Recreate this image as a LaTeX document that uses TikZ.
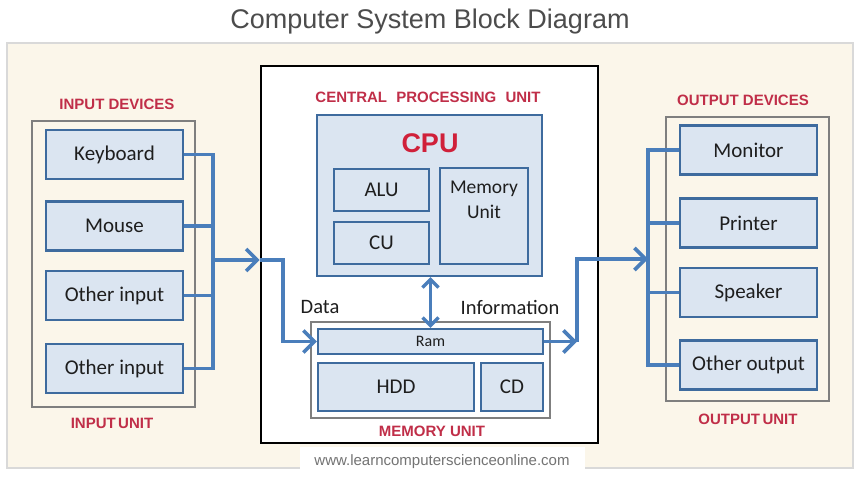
\documentclass[tikz,border=0pt]{standalone}
\usepackage{fontspec}
\setmainfont{Liberation Sans}
\newfontfamily\calfont{Carlito}
\usetikzlibrary{arrows.meta}
\definecolor{panelbg}{HTML}{FBF6EA}
\definecolor{panelln}{HTML}{D9D9D9}
\definecolor{boxfill}{HTML}{DBE5F1}
\definecolor{boxln}{HTML}{3E6B9E}
\definecolor{connc}{HTML}{4A7EBB}
\definecolor{labred}{HTML}{C02E48}
\definecolor{cpured}{HTML}{D0203A}
\definecolor{grpln}{HTML}{7F7F7F}
\definecolor{txtc}{HTML}{1E1E1E}
\tikzset{
  devbox/.style={draw=boxln, line width=2.2pt, fill=boxfill, minimum width=137pt, minimum height=49pt, inner sep=0pt, text=txtc, font=\calfont\fontsize{21}{25}\selectfont},
  inbox/.style={draw=boxln, line width=2.2pt, fill=boxfill, inner sep=0pt, text=txtc, font=\calfont\fontsize{21}{25}\selectfont, align=center},
  grpbox/.style={draw=grpln, line width=1.3pt},
  redlab/.style={text=labred, font=\bfseries\fontsize{15}{18}\selectfont, inner sep=0pt},
  plain/.style={text=txtc, font=\calfont\fontsize{20.5}{25}\selectfont, inner sep=0pt},
  conn/.style={draw=connc, line width=3.6pt},
  bigtip/.style={-{Straight Barb[length=11pt,width=22pt,line width=3.6pt]}},
  smalltip/.style={{Straight Barb[length=8pt,width=16pt,line width=3.4pt]}-{Straight Barb[length=8pt,width=16pt,line width=3.4pt]}}
}
\begin{document}
\begin{tikzpicture}[x=1pt,y=-1pt]
\useasboundingbox (0,0) rectangle (859,477);
\fill[white] (0,0) rectangle (859,477);
% background panel
\draw[fill=panelbg, draw=panelln, line width=1.5pt] (7,43) rectangle (853,468);
% title
\node[text=black!70, font=\fontsize{27}{30}\selectfont, inner sep=0pt] (title) at (430,22) {Computer System Block Diagram};
% website
\node[fill=white, minimum width=285pt, minimum height=30pt, text=black!55, font=\fontsize{15}{18}\selectfont] (web) at (442,462) {www.learncomputerscienceonline.com};

% CPU outer box
\node[draw=black, line width=2.6pt, fill=white, minimum width=337pt, minimum height=377pt, inner sep=0pt] (cpubox) at (429.5,254.5) {};
\node[redlab] (cpulab) at (428,97) {CENTRAL\hspace{5pt} PROCESSING\hspace{5pt} UNIT};
\node[draw=boxln, line width=2.2pt, fill=boxfill, minimum width=225pt, minimum height=161pt, inner sep=0pt] (cpuin) at (429.5,195.5) {};
\node[text=cpured, font=\bfseries\fontsize{27}{30}\selectfont, inner sep=0pt] (cputxt) at (430,143) {CPU};
\node[inbox, minimum width=95pt, minimum height=42pt] (alu) at (381.5,190) {ALU};
\node[inbox, minimum width=95pt, minimum height=42pt] (cu) at (381.5,243) {CU};
\node[inbox, minimum width=88pt, minimum height=96pt, font=\calfont\fontsize{19.5}{25}\selectfont] (memu) at (484,216) {Memory\\Unit\\\strut};

% memory unit
\node[draw=grpln, line width=1.3pt, fill=white, minimum width=239pt, minimum height=96pt, inner sep=0pt] (memgrp) at (430.5,370) {};
\node[inbox, minimum width=225pt, minimum height=25pt, font=\calfont\fontsize{16}{18}\selectfont] (ram) at (430.5,341.5) {Ram};
\node[inbox, minimum width=156pt, minimum height=48pt] (hdd) at (396,387) {HDD};
\node[inbox, minimum width=62pt, minimum height=48pt] (cd) at (512,387) {CD};
\node[redlab] (memlab) at (432,431) {MEMORY UNIT};
\node[plain] (data) at (320,307) {Data};
\node[plain] (info) at (510,307) {Information};

% input unit
\node[redlab] (inlab) at (117,104) {INPUT DEVICES};
\draw[grpbox] (32,121) rectangle (195,407);
\node[redlab] (inulab) at (112,423) {INPUT\hspace{2.5pt}UNIT};
\node[devbox] (kbd) at (114.5,154.5) {Keyboard};
\node[devbox] (mouse) at (114.5,226) {Mouse};
\node[devbox] (oin1) at (114.5,295.5) {Other input};
\node[devbox] (oin2) at (114.5,368.5) {Other input};

% output unit
\node[redlab] (outlab) at (743,100) {OUTPUT DEVICES};
\draw[grpbox] (666,117) rectangle (829,401);
\node[redlab] (outulab) at (748,419) {OUTPUT\hspace{2.5pt}UNIT};
\node[devbox] (mon) at (748.5,150) {Monitor};
\node[devbox] (prn) at (748.5,223) {Printer};
\node[devbox] (spk) at (748.5,292.5) {Speaker};
\node[devbox] (oout) at (748.5,365) {Other output};

% input connectors
\coordinate (ibus) at (213,154.5);
\coordinate (inarr) at (213,260);
\coordinate (dturn) at (283,260);
\draw[conn] (kbd.east) -- (kbd.east -| ibus) -- (oin2.east -| ibus) -- (oin2.east);
\draw[conn] (mouse.east) -- (mouse.east -| ibus);
\draw[conn] (oin1.east) -- (oin1.east -| ibus);
\draw[conn, bigtip] (inarr) -- (inarr -| cpubox.west);
\draw[conn, bigtip] (inarr -| cpubox.west) -- (dturn) |- (ram.west);

% cpu <-> ram
\draw[conn, smalltip] (cpuin.south -| ram.north) -- (ram.north);

% output connectors
\coordinate (oturn) at (577,259);
\coordinate (obus) at (648,150);
\draw[conn, bigtip] (ram.east) -- (ram.east -| oturn);
\draw[conn, bigtip] (ram.east -| oturn) -- (oturn) -- (oturn -| obus);
\draw[conn] (mon.west) -- (mon.west -| obus) -- (oout.west -| obus) -- (oout.west);
\draw[conn] (prn.west) -- (prn.west -| obus);
\draw[conn] (spk.west) -- (spk.west -| obus);
\end{tikzpicture}
\end{document}
